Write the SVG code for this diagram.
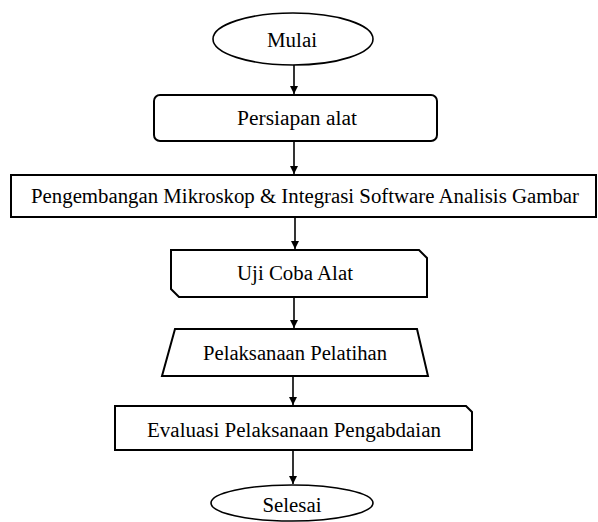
<svg xmlns="http://www.w3.org/2000/svg" width="598" height="522" viewBox="0 0 598 522">
<style>
.s{fill:#fff;stroke:#000;stroke-width:2}
.e{fill:#fff;stroke:#000;stroke-width:1.6}
.t{font-family:"Liberation Serif","Times New Roman",serif;font-size:20.5px;fill:#000;text-anchor:middle}
.c{stroke:#000;stroke-width:1.6;fill:none}
</style>
<rect width="598" height="522" fill="#fff"/>
<g id="connectors">
<line class="c" x1="294" y1="65" x2="294" y2="94"/>
<path d="M290,86 L298,86 L294,94 Z"/>
<line class="c" x1="294" y1="142" x2="294" y2="174"/>
<path d="M290,166 L298,166 L294,174 Z"/>
<line class="c" x1="295" y1="218" x2="295" y2="249"/>
<path d="M291,241 L299,241 L295,249 Z"/>
<line class="c" x1="294" y1="298" x2="294" y2="328"/>
<path d="M290,320 L298,320 L294,328 Z"/>
<line class="c" x1="293" y1="377" x2="293" y2="405"/>
<path d="M289,397 L297,397 L293,405 Z"/>
<line class="c" x1="293" y1="451" x2="293" y2="484"/>
<path d="M289,476 L297,476 L293,484 Z"/>
</g>
<g id="mulai">
<ellipse class="e" cx="293" cy="39" rx="80" ry="26"/>
<text class="t" x="292" y="47" textLength="50" lengthAdjust="spacingAndGlyphs">Mulai</text>
</g>
<g id="persiapan">
<rect class="s" x="154" y="95" width="283" height="46" rx="6"/>
<text class="t" x="297" y="125" textLength="120" lengthAdjust="spacingAndGlyphs">Persiapan alat</text>
</g>
<g id="pengembangan">
<rect class="s" x="11" y="175" width="585" height="42"/>
<text class="t" x="305" y="203" textLength="548" lengthAdjust="spacingAndGlyphs">Pengembangan Mikroskop &amp; Integrasi Software Analisis Gambar</text>
</g>
<g id="uji">
<path class="s" d="M171,250 L419,250 L427,258 L427,297 L179,297 L171,289 Z"/>
<text class="t" x="295" y="280" textLength="116" lengthAdjust="spacingAndGlyphs">Uji Coba Alat</text>
</g>
<g id="pelaksanaan">
<path class="s" d="M175,329 L417,329 L428,376 L162,376 Z"/>
<text class="t" x="295" y="360" textLength="184" lengthAdjust="spacingAndGlyphs">Pelaksanaan Pelatihan</text>
</g>
<g id="evaluasi">
<path class="s" d="M115,406 L466,406 L472,412 L472,450 L115,450 Z"/>
<text class="t" x="294" y="437" textLength="294" lengthAdjust="spacingAndGlyphs">Evaluasi Pelaksanaan Pengabdaian</text>
</g>
<g id="selesai">
<ellipse class="e" cx="292" cy="503" rx="81" ry="18"/>
<text class="t" x="292" y="512" textLength="59" lengthAdjust="spacingAndGlyphs">Selesai</text>
</g>
</svg>
